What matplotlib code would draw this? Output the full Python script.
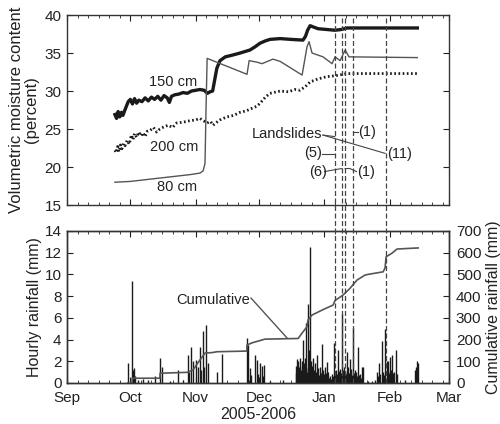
import numpy as np
import matplotlib
matplotlib.use("Agg")
import matplotlib.pyplot as plt
from matplotlib.lines import Line2D
from matplotlib.transforms import blended_transform_factory

plt.rcParams["font.family"] = ["Liberation Sans", "DejaVu Sans"]

# x axis: days since 1 Sep 2005
month_days = [0, 30, 61, 91, 122, 153, 181]
month_labels = ["Sep", "Oct", "Nov", "Dec", "Jan", "Feb", "Mar"]

# volumetric moisture content (percent)
d150 = [22.7, 23.5, 24.2, 25.0, 25.8, 26.5, 27.3, 28.0, 29.0, 30.0, 31.0, 32.0, 33.0, 34.0,
        35.5, 37.0, 38.5, 40.0, 41.5, 43.0, 44.5, 46.0, 47.5, 48.5, 49.5, 51.0, 53.0, 55.0,
        57.0, 59.0, 61.0, 63.0, 65.0, 66.5, 67.8, 69.0, 70.0, 71.0, 72.5, 75.0, 78.0, 82.0,
        86.7, 89.0, 91.5, 94.0, 96.2, 101.0, 106.0, 111.8, 113.0, 114.0, 115.2, 117.0, 119.0,
        123.0, 127.0, 130.0, 132.7, 166.0]
v150 = [26.9, 26.4, 27.3, 26.6, 27.2, 26.8, 27.4, 27.9, 28.6, 28.9, 28.3, 29.0, 28.4, 28.8,
        28.6, 29.1, 28.7, 29.2, 28.9, 29.3, 28.8, 29.4, 29.1, 28.5, 29.3, 29.5, 29.6, 29.8,
        29.7, 30.0, 30.1, 30.2, 30.1, 29.7, 29.9, 30.0, 31.5, 33.0, 34.0, 34.5, 34.7, 35.0,
        35.4, 35.8, 36.3, 36.6, 36.8, 36.9, 36.8, 36.7, 37.2, 38.0, 38.6, 38.4, 38.2,
        38.1, 38.0, 38.1, 38.3, 38.3]

d200 = [22.7, 23.3, 24.0, 24.6, 25.3, 26.0, 26.8, 27.5, 28.5, 29.5, 30.5, 31.3, 32.0, 33.0,
        34.0, 35.0, 36.0, 37.0, 38.0, 39.3, 41.0, 42.5, 44.0, 46.0, 48.0, 50.0, 52.0, 55.0,
        58.3, 61.0, 63.0, 64.5, 66.4, 68.0, 69.2, 71.0, 72.5, 75.8, 79.0, 82.0, 85.0, 88.2,
        90.0, 91.5, 94.0, 96.2, 101.0, 105.0, 108.0, 110.4, 113.0, 115.2, 119.0, 123.2,
        127.0, 132.7, 166.0]
v200 = [22.2, 21.9, 22.7, 22.0, 22.9, 22.4, 23.1, 22.8, 23.5, 23.0, 24.2, 23.6, 24.4, 23.9,
        24.6, 24.1, 24.5, 24.0, 24.7, 24.8, 25.2, 24.6, 25.0, 25.3, 25.5, 25.2, 25.8, 25.9,
        26.1, 26.2, 26.4, 26.1, 25.8, 26.0, 25.5, 25.9, 26.2, 26.6, 26.8, 27.2, 27.4, 27.8,
        28.0, 28.4, 29.2, 29.7, 30.0, 29.9, 30.2, 30.1, 30.6, 31.2, 31.6, 31.9,
        32.0, 32.3, 32.3]

d80 = [22.7, 29.9, 39.3, 48.8, 58.3, 63.0, 64.5, 65.4, 65.9, 66.4, 85.3, 86.3, 90.0, 92.4,
       97.6, 101.0, 111.4, 113.7, 114.7, 116.1, 121.3, 125.6, 127.0, 129.4, 131.8, 133.6, 166.0]
v80 = [18.0, 18.1, 18.4, 18.7, 19.0, 19.2, 19.5, 20.5, 28.0, 34.3, 32.2, 34.0, 33.8, 33.6,
       34.2, 33.9, 32.1, 35.8, 36.5, 35.0, 34.5, 33.6, 34.5, 34.0, 35.4, 34.5, 34.4]

# hourly rainfall (mm)
rain_day = [29.1, 31.0, 31.3, 31.8, 32.2, 33.6, 36.0, 38.4, 41.7, 44.1, 45.2, 48.8, 52.7, 55.0,
            57.2, 57.8, 58.8, 59.9, 61.1, 62.2, 63.0, 63.5, 64.3, 64.9, 65.9, 66.7, 70.9, 73.3,
            85.2, 85.8, 86.7, 87.4, 89.1, 89.9, 90.5, 91.5, 92.3, 93.0, 93.5, 96.2, 102.4,
            108.3, 108.5, 108.8, 109.0, 109.3, 109.5, 109.8, 110.0, 110.4, 110.7, 110.9, 111.2,
            111.4, 111.7, 112.0, 112.3, 112.6, 112.8, 113.1, 113.3, 113.6, 114.1, 114.4,
            114.7, 115.0, 115.2, 115.6, 115.9, 116.1, 116.4, 116.6, 116.9, 117.1, 117.5, 117.8,
            118.3, 118.6, 118.9, 119.3, 119.9, 120.3, 120.7, 121.0, 121.3, 121.7,
            122.3, 122.7, 123.1, 123.4, 123.7, 124.2, 124.6, 125.1, 125.6, 126.2, 126.7, 127.1,
            127.5, 128.0, 128.6, 129.0, 129.4, 129.9, 130.5, 130.9, 131.3,
            131.8, 132.1, 132.5, 132.9, 133.2, 133.6, 134.1, 134.6, 135.0, 135.7, 136.1, 136.5,
            137.0, 137.5, 138.1, 138.5, 138.9, 139.3, 139.7, 140.3,
            142.7, 144.5, 146.0, 146.8, 147.4, 147.9, 148.5, 149.2, 149.8, 150.3, 150.9, 151.4,
            151.9, 152.3, 152.7, 153.1, 153.6, 154.2, 154.6, 155.0, 155.8, 156.4, 160.2,
            165.0, 165.2, 165.5, 165.7, 166.1]
rain_mm = [1.8, 9.4, 1.2, 1.35, 0.6, 0.3, 0.4, 0.3, 0.6, 2.3, 1.5, 0.2, 1.2, 0.3,
           2.6, 1.0, 3.3, 2.0, 2.1, 1.5, 3.3, 1.2, 4.8, 1.5, 5.3, 1.8, 1.0, 2.7,
           4.1, 3.5, 1.35, 0.7, 2.6, 2.1, 0.8, 1.8, 1.6, 0.6, 1.7, 0.2, 0.3,
           0.9, 1.6, 1.1, 2.2, 0.8, 2.0, 1.3, 1.5, 2.3, 0.9, 1.2, 1.6,
           2.0, 1.0, 4.0, 1.8, 0.9, 2.3, 1.4, 5.5, 1.0, 7.3, 1.5,
           3.0, 1.1, 12.5, 2.0, 0.9, 1.6, 1.2, 2.3, 0.8, 1.2, 1.8, 1.0,
           2.6, 0.9, 1.4, 0.7, 1.5, 0.9, 3.6, 1.0, 1.2, 0.8,
           1.5, 0.9, 1.9, 0.7, 1.0, 0.5, 0.6, 0.4, 0.8, 0.6, 3.7, 0.9,
           1.2, 0.8, 3.0, 1.1, 1.3, 0.9, 6.4, 1.2, 1.5,
           1.0, 0.8, 2.9, 1.0, 1.5, 0.9, 2.2, 1.3, 0.7, 5.1, 0.9, 1.2,
           1.0, 0.6, 3.3, 0.7, 0.8, 0.5, 1.5, 1.5,
           0.2, 0.2, 0.3, 1.0, 0.6, 1.8, 0.8, 3.9, 1.0, 0.7, 5.0, 2.0,
           1.1, 2.0, 0.9, 2.4, 1.2, 2.6, 0.9, 1.0, 3.0, 0.8, 0.3,
           1.2, 1.5, 1.0, 2.0, 1.8]

# cumulative rainfall (mm)
cum_day = [28.9, 30.8, 30.9, 44.0, 44.1, 56.9, 59.7, 63.0, 65.4, 68.7, 71.1, 85.2, 85.3, 87.7,
           93.8, 109.5, 111.4, 113.7, 114.2, 116.1, 120.9, 126.1, 127.0, 130.8, 134.1, 137.4,
           141.2, 142.6, 149.8, 150.7, 151.2, 154.0, 156.4, 166.4]
cum_mm = [0, 0, 22, 22, 45, 49, 60, 106, 138, 140, 144, 147, 175, 185,
          202, 205, 230, 259, 290, 313, 336, 359, 380, 405, 436, 474,
          497, 500, 512, 530, 581, 598, 617, 622]

# landslide dates
slide_days = [126.9, 130.3, 131.8, 135.3, 151.0]

ink = "#222222"
fig = plt.figure(figsize=(5.0, 4.24), dpi=100)
ax1 = fig.add_axes([0.134, 0.5165, 0.764, 0.448])
ax2 = fig.add_axes([0.134, 0.0967, 0.764, 0.3585])
ax3 = ax2.twinx()

minor = [m + k for m in month_days[:-1] for k in (5, 10, 15, 20, 25)]

# top panel
ax1.plot(d150, v150, color="#1a1a1a", lw=2.4, solid_joinstyle="round")
ax1.plot(d80, v80, color="#555555", lw=1.0)
ax1.plot(d200, v200, color="#1a1a1a", lw=2.0, ls=(0, (0.6, 0.9)))
ax1.set_xlim(0, 181)
ax1.set_ylim(15, 40)
ax1.set_yticks([15, 20, 25, 30, 35, 40])
ax1.set_xticks(month_days)
ax1.set_xticks(minor, minor=True)
ax1.set_xticklabels([])
ax1.set_ylabel("Volumetric moisture content\n(percent)", fontsize=12, color=ink, linespacing=1.0)

fs = 10.5
ax1.text(50.2, 31.2, "150 cm", fontsize=fs, ha="center", va="center", color=ink)
ax1.text(50.7, 22.6, "200 cm", fontsize=fs, ha="center", va="center", color=ink)
ax1.text(52.1, 17.4, "80 cm", fontsize=fs, ha="center", va="center", color=ink)
ax1.text(104.3, 24.3, "Landslides", fontsize=fs, ha="center", va="center", color=ink)
ax1.text(142.4, 24.6, "(1)", fontsize=fs, ha="center", va="center", color=ink)
ax1.text(116.6, 21.8, "(5)", fontsize=fs, ha="center", va="center", color=ink)
ax1.text(157.8, 21.7, "(11)", fontsize=fs, ha="center", va="center", color=ink)
ax1.text(119.0, 19.3, "(6)", fontsize=fs, ha="center", va="center", color=ink)
ax1.text(141.9, 19.3, "(1)", fontsize=fs, ha="center", va="center", color=ink)
lk = dict(color="#444444", lw=0.8)
ax1.plot([121.3, 126.9], [24.2, 24.0], **lk)
ax1.plot([121.3, 150.7], [24.2, 21.8], **lk)
ax1.plot([135.3, 137.8], [24.6, 24.6], **lk)
ax1.plot([120.9, 126.9], [21.7, 21.7], **lk)
ax1.plot([122.0, 128.0, 130.3], [19.4, 19.7, 19.8], **lk)
ax1.plot([131.8, 134.0, 137.2], [19.8, 19.8, 19.4], **lk)

# bottom panel
ax2.vlines(rain_day, 0, rain_mm, color="#1a1a1a", lw=1.0)
ax2.set_xlim(0, 181)
ax2.set_ylim(0, 14)
ax2.set_yticks(range(0, 15, 2))
ax2.set_xticks(month_days)
ax2.set_xticks(minor, minor=True)
ax2.set_xticklabels(month_labels)
ax2.set_xlabel("2005-2006", fontsize=11.5, color=ink, labelpad=1)
ax2.set_ylabel("Hourly rainfall (mm)", fontsize=11.5, color=ink, labelpad=2)

ax3.plot(cum_day, cum_mm, color="#555555", lw=1.2)
ax3.set_ylim(0, 700)
ax3.set_yticks(range(0, 701, 100))
ax3.set_ylabel("Cumulative rainfall (mm)", fontsize=11.5, color=ink, labelpad=3)
ax2.text(69.2, 7.6, "Cumulative", fontsize=fs, ha="center", va="center", color=ink)
ax3.plot([87.2, 104.3], [391, 207], color="#555555", lw=1.0)

for ax in (ax1, ax2):
    ax.tick_params(axis="both", which="both", direction="in", top=True, labelsize=11,
                   colors=ink, pad=4)
    ax.tick_params(which="major", length=4)
    ax.tick_params(which="minor", length=2)
ax2.tick_params(axis="x", pad=6)
ax1.tick_params(axis="y", right=True)
ax3.tick_params(axis="y", direction="in", length=4, labelsize=11, colors=ink, pad=5)
for ax in (ax1, ax2, ax3):
    for s in ax.spines.values():
        s.set_color("#333333")
        s.set_linewidth(1.0)

# landslide lines span both panels
trans = blended_transform_factory(ax2.transData, fig.transFigure)
for d in slide_days:
    fig.add_artist(Line2D([d, d], [0.0967, 0.9646], transform=trans, color="#444444",
                          lw=0.9, ls=(0, (4, 2))))

fig.savefig("out.png", dpi=100)
